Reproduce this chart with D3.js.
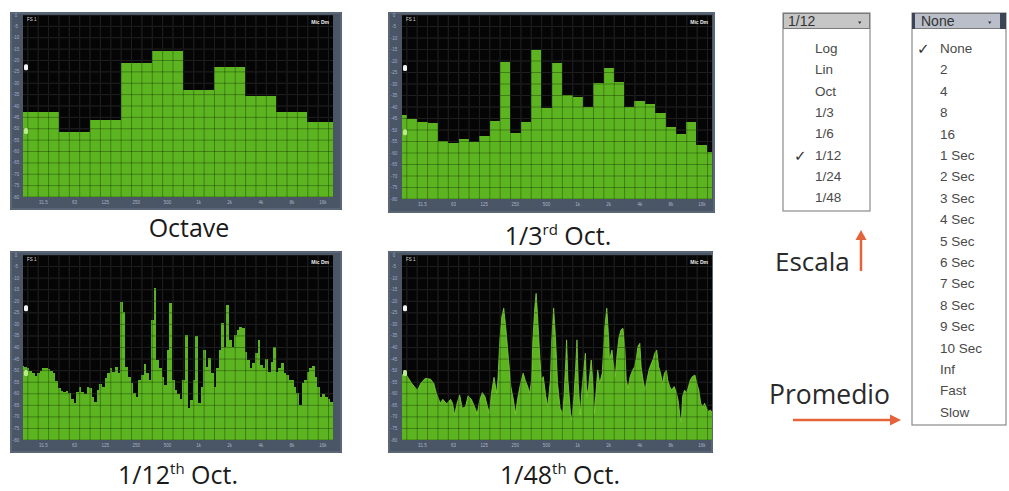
<!DOCTYPE html>
<html><head><meta charset="utf-8">
<script src="https://cdn.jsdelivr.net/npm/d3@7"></script>
<style>body{margin:0;background:#fff;overflow:hidden}svg{display:block}</style>
</head><body>
<script>
// ---------- data ----------
const xTickLabels = ["31.5","63","125","250","500","1k","2k","4k","8k","16k"];
const xTickFreqs = [31.5,63,125,250,500,1000,2000,4000,8000,16000];
const yTickValues = [0,-5,-10,-15,-20,-25,-30,-35,-40,-45,-50,-55,-60,-65,-70,-75,-80];
const markerLevels = [-23,-51];

const octaveCenters = [31.5,63,125,250,500,1000,2000,4000,8000,16000];
const octaveLevels = [-42.6,-51.4,-46.2,-21.1,-15.8,-33.0,-22.9,-35.6,-42.6,-47.0];

const thirdCenters = [20,25,31.5,40,50,63,80,100,125,160,200,250,315,400,500,630,800,1000,1250,1600,2000,2500,3150,4000,5000,6300,8000,10000,12500,16000,20000];
const thirdLevels = [-43.5,-45.4,-46.4,-46.8,-54.6,-55.5,-54.1,-55.1,-52.6,-46.0,-20.3,-51.4,-46.4,-15.2,-40.6,-21.0,-34.8,-35.5,-39.9,-29.7,-22.9,-29.0,-40.1,-37.2,-38.7,-42.7,-48.5,-51.7,-46.7,-56.5,-59.4];

const twelfthLevels = [
-48.0,-48.3,-49.0,-50.0,-51.1,-52.3,-51.1,-50.0,-49.0,-48.7,
-49.1,-50.0,-51.1,-54.7,-57.6,-58.6,-59.1,-58.6,-59.8,-62.4,
-63.8,-59.1,-56.9,-59.1,-60.1,-56.9,-57.6,-61.2,-63.4,-58.4,
-55.8,-56.9,-53.3,-51.1,-49.0,-50.4,-48.3,-51.1,-20.2,-24.5,
-48.3,-52.6,-55.5,-59.8,-61.2,-54.0,-51.9,-47.1,-51.1,-54.0,
-28.1,-14.4,-45.4,-49.0,-52.6,-56.2,-41.1,-20.9,-54.0,-58.4,
-60.1,-62.4,-54.0,-34.6,-66.3,-62.7,-54.0,-35.0,-64.1,-56.9,
-41.1,-48.3,-44.7,-51.1,-56.9,-49.0,-41.1,-29.2,-39.6,-21.6,
-36.7,-39.6,-34.6,-32.4,-31.3,-31.7,-41.8,-45.4,-49.0,-46.8,
-42.5,-36.7,-47.5,-49.0,-45.1,-50.4,-46.1,-39.6,-50.4,-49.0,
-46.5,-51.1,-51.9,-54.0,-54.0,-56.9,-59.8,-64.8,-55.5,-54.0,
-50.4,-49.0,-48.0,-52.6,-56.9,-61.2,-60.1,-61.2,-62.4,-63.4];

const bands48 = [
0,5,10,15,21,24,29,36,44,49,
53,59,63,69,75,78,81,85,89,93,
98,102,107,112,116,120,124,128,132,135,
138,142,146,148,151,154,157,160,164,168,
172,175,179,183,187,190,194,197,200,202,
205,207,209,212,215,218,222,225,229,231,
234,237,240,244,248,250,253,254,256,260,
262,265,268,270,272,275,278,281,283,285,
288,292,295,297,300,302,305,309,311,313,
316,319,320,324,326,329,332,335,338,341,
344,346,349,352,356,359,362,364,367,369,
372,375,378,381,384,388,390,393,396,399,
402,405,408,410,413,416,420,423,426,429,
431,433,436,439,442,445,448,452,455,458,
461,464,467,470,473,476,479];
const levels48 = [
-51.9,-51.1,-53.3,-55.5,-57.6,-58.4,-55.5,-53.3,-53.7,-55.5,
-59.8,-64.1,-62.4,-64.4,-62.4,-64.1,-69.2,-64.1,-60.5,-66.3,
-65.6,-60.9,-62.4,-65.6,-68.7,-62.7,-59.5,-61.2,-65.6,-68.4,
-59.8,-52.9,-59.8,-54.0,-36.7,-26.7,-23.0,-31.0,-43.9,-56.9,
-62.7,-68.7,-61.2,-55.5,-51.1,-54.0,-56.9,-59.8,-54.0,-36.7,
-22.3,-16.6,-25.2,-41.1,-54.0,-52.6,-61.2,-65.6,-54.0,-36.7,
-23.0,-36.7,-55.5,-66.3,-68.7,-61.2,-43.9,-36.7,-54.0,-68.4,
-71.3,-62.7,-48.3,-36.7,-55.5,-69.2,-56.9,-48.3,-42.5,-61.2,
-56.9,-45.4,-56.9,-68.4,-56.9,-49.7,-55.5,-51.1,-41.1,-31.0,
-23.0,-36.7,-45.4,-41.1,-46.8,-52.6,-42.5,-35.3,-32.4,-31.7,
-41.1,-54.0,-57.6,-52.6,-49.7,-48.3,-43.9,-39.6,-38.2,-48.3,
-54.0,-58.4,-54.0,-49.7,-47.5,-44.7,-42.5,-41.1,-48.3,-51.1,
-55.5,-51.1,-49.7,-54.0,-56.9,-58.4,-56.9,-59.1,-62.7,-69.9,
-72.0,-61.2,-58.4,-59.8,-56.9,-54.0,-52.6,-51.9,-55.5,-58.4,
-64.1,-65.6,-64.1,-66.3,-67.7,-67.0,-68.4];

const panelTitles = [["Octave",""],["1/3","rd"," Oct."],["1/12","th"," Oct."],["1/48","th"," Oct."]];
const scaleItems = ["Log","Lin","Oct","1/3","1/6","1/12","1/24","1/48"];
const scaleSelected = "1/12";
const avgItems = ["None","2","4","8","16","1 Sec","2 Sec","3 Sec","4 Sec","5 Sec","6 Sec","7 Sec","8 Sec","9 Sec","10 Sec","Inf","Fast","Slow"];
const avgSelected = "None";
const annotations = ["Escala","Promedio"];

// ---------- layout ----------
const W = 1009, H = 491;
const svg = d3.select("body").append("svg").attr("width", W).attr("height", H);
const GREEN = "#5cb520";
const layout = [
  {fx:10, fy:12, fw:332, fh:198, px:23, py:15, pw:310, ph:182, tx:189, ty:237},
  {fx:388, fy:12, fw:327, fh:201, px:402, py:15, pw:310, ph:184, tx:558, ty:245},
  {fx:10, fy:251, fw:332, fh:202, px:23, py:255, pw:310, ph:185, tx:178, ty:484},
  {fx:388, fy:251, fw:325, fh:202, px:402, py:255, pw:310, ph:185, tx:560, ty:484}
];

function edgesFor(centers, dom) {
  return centers.map((c, i) => {
    const lo = i === 0 ? dom[0] : Math.sqrt(centers[i-1] * c);
    const hi = i === centers.length - 1 ? dom[1] : Math.sqrt(centers[i+1] * c);
    return [lo, hi];
  });
}

function panel(idx, kind, centers, levels) {
  const L = layout[idx];
  const g = svg.append("g");
  const dom = [20, 20000];
  const x = d3.scaleLog().domain(dom).range([L.px, L.px + L.pw]);
  const y = d3.scaleLinear().domain([-80, 0]).range([L.py + L.ph, L.py]);
  g.append("rect").attr("x", L.fx).attr("y", L.fy).attr("width", L.fw).attr("height", L.fh).attr("fill", "#4a5566");
  g.append("rect").attr("x", L.fx + 1).attr("y", L.fy + 1).attr("width", L.fw - 2).attr("height", L.fh - 2).attr("fill", "none").attr("stroke", "#6b7686").attr("stroke-width", 1);
  g.append("rect").attr("x", L.px).attr("y", L.py).attr("width", L.pw).attr("height", L.ph).attr("fill", "#050505");
  const clipId = "clip" + idx;
  g.append("clipPath").attr("id", clipId).append("rect").attr("x", L.px).attr("y", L.py).attr("width", L.pw).attr("height", L.ph);
  const inner = g.append("g").attr("clip-path", `url(#${clipId})`);
  const vLines = d3.range(-3, 30).map(j => 44.55 * Math.pow(2, j / 3)).filter(f => f > dom[0] && f < dom[1]);
  function grid(sel, color) {
    sel.selectAll(null).data(vLines).join("line")
      .attr("x1", d => x(d)).attr("x2", d => x(d)).attr("y1", L.py).attr("y2", L.py + L.ph)
      .attr("stroke", color).attr("stroke-width", 1);
    sel.selectAll(null).data(yTickValues).join("line")
      .attr("x1", L.px).attr("x2", L.px + L.pw).attr("y1", d => y(d)).attr("y2", d => y(d))
      .attr("stroke", color).attr("stroke-width", 1);
  }
  grid(inner.append("g"), "#2c2c2c");
  if (kind === "bars") {
    const ed = edgesFor(centers, dom);
    inner.append("g").selectAll("rect").data(levels).join("rect")
      .attr("x", (d, i) => x(ed[i][0])).attr("width", (d, i) => Math.max(0.6, x(ed[i][1]) - x(ed[i][0])))
      .attr("y", d => y(d)).attr("height", d => L.py + L.ph - y(d))
      .attr("fill", GREEN).attr("shape-rendering", "crispEdges");
  } else {
    const pts = centers.map((c, i) => [c, levels[i]]);
    const area = d3.area().x(d => x(d[0])).y0(L.py + L.ph).y1(d => y(d[1]));
    inner.append("path").datum(pts).attr("d", area).attr("fill", GREEN);
    inner.append("path").datum(pts).attr("d", d3.line().x(d => x(d[0])).y(d => y(d[1])))
      .attr("fill", "none").attr("stroke", "#7fd23a").attr("stroke-width", 0.8);
  }
  grid(inner.append("g"), "rgba(0,0,0,0.30)");
  g.append("g").selectAll("text").data(yTickValues).join("text")
    .attr("x", L.fx + 6).attr("y", d => y(d) + 1.5).attr("text-anchor", "middle")
    .attr("font-family", "Liberation Sans, Arial").attr("font-size", 4.5).attr("fill", "#9fb0c6")
    .text(d => d);
  g.append("g").selectAll("text").data(xTickFreqs).join("text")
    .attr("x", d => x(d)).attr("y", L.py + L.ph + 7).attr("text-anchor", "middle")
    .attr("font-family", "Liberation Sans, Arial").attr("font-size", 4.5).attr("fill", "#a8b4c4")
    .text((d, i) => xTickLabels[i]);
  g.append("rect").attr("x", L.px + 1).attr("y", y(markerLevels[0]) - 3).attr("width", 4).attr("height", 6).attr("rx", 1.5).attr("fill", "#f4f4f4");
  g.append("rect").attr("x", L.px + 1).attr("y", y(markerLevels[1]) - 3).attr("width", 4).attr("height", 6).attr("rx", 1.5).attr("fill", "#b8ec8a");
  g.append("text").attr("x", L.px + 4).attr("y", L.py + 6).attr("font-family", "Liberation Sans, Arial").attr("font-size", 4.5).attr("fill", "#ddd").text("FS 1");
  g.append("text").attr("x", L.px + L.pw - 4).attr("y", L.py + 9).attr("text-anchor", "end").attr("font-family", "Liberation Sans, Arial").attr("font-size", 5).attr("font-weight", "bold").attr("fill", "#eee").text("Mic Dm");
  const t = svg.append("text").attr("x", L.tx).attr("y", L.ty).attr("text-anchor", "middle")
    .attr("font-family", "Open Sans, Lato, sans-serif").attr("font-size", 25).attr("fill", "#1a1a1a");
  const tt = panelTitles[idx];
  t.append("tspan").text(tt[0]);
  if (tt[1]) {
    t.append("tspan").attr("font-size", 15).attr("dy", -10).text(tt[1]);
    t.append("tspan").attr("dy", 10).text(tt[2]);
  }
}

const twelfthCenters = twelfthLevels.map((d, k) => 20 * Math.pow(2, k / 12));
const centers48 = bands48.map(k => 20 * Math.pow(2, k / 48));
panel(0, "bars", octaveCenters, octaveLevels);
panel(1, "bars", thirdCenters, thirdLevels);
panel(2, "bars", twelfthCenters, twelfthLevels);
panel(3, "area", centers48, levels48);

// ---------- dropdown menus ----------
const menuFont = "Liberation Sans, Arial, sans-serif";
function menu(x0, y0, w, hdrH, firstY, rowH, items, selected, hdrText, bottom, dark) {
  const g = svg.append("g");
  g.append("rect").attr("x", x0).attr("y", y0).attr("width", w).attr("height", bottom - y0)
    .attr("fill", "#fff").attr("stroke", "#8a8a8a").attr("stroke-width", 1.2);
  g.append("rect").attr("x", x0 + 0.5).attr("y", y0 + 0.5).attr("width", w - 1).attr("height", hdrH)
    .attr("fill", dark ? "#b9bec8" : "#c6c6c6").attr("stroke", "#7a7a7a").attr("stroke-width", 1);
  if (dark) {
    g.append("rect").attr("x", x0).attr("y", y0).attr("width", 3).attr("height", hdrH + 1).attr("fill", "#3b4556");
    g.append("rect").attr("x", x0 + w - 6).attr("y", y0).attr("width", 6).attr("height", hdrH + 1).attr("fill", "#3b4556");
  }
  g.append("text").attr("x", x0 + (dark ? 9 : 5)).attr("y", y0 + hdrH / 2 + 5)
    .attr("font-family", menuFont).attr("font-size", 14).attr("fill", "#333").text(hdrText);
  g.append("path").attr("d", `M${x0 + w - (dark ? 18 : 12)},${y0 + hdrH / 2 + 1} l3.5,0 l-1.75,2.5z`).attr("fill", "#333");
  const ys = d3.scalePoint().domain(items).range([firstY, firstY + rowH * (items.length - 1)]);
  g.append("g").selectAll("text").data(items).join("text")
    .attr("x", x0 + (dark ? 28 : 32)).attr("y", d => ys(d) + 5)
    .attr("font-family", menuFont).attr("font-size", 13.5).attr("fill", "#4a4a4a").text(d => d);
  g.append("text").attr("x", x0 + (dark ? 5 : 11)).attr("y", ys(selected) + 6)
    .attr("font-family", "DejaVu Sans, sans-serif").attr("font-size", 15).attr("fill", "#333").text("✓");
}
menu(783, 13, 87, 15, 48, 21.3, scaleItems, scaleSelected, scaleSelected, 211, false);
menu(912, 13, 94, 15, 48, 21.4, avgItems, avgSelected, avgSelected, 425, true);

// ---------- annotations ----------
const ORANGE = "#e5633a";
svg.append("text").attr("x", 775).attr("y", 271).attr("font-family", "Open Sans, Lato, sans-serif")
  .attr("font-size", 26).attr("fill", "#2a2a2a").text(annotations[0]);
svg.append("line").attr("x1", 861).attr("x2", 861).attr("y1", 271).attr("y2", 238).attr("stroke", ORANGE).attr("stroke-width", 2.5);
svg.append("path").attr("d", "M855.5,240 L861,230 L866.5,240 Z").attr("fill", ORANGE);
svg.append("text").attr("x", 769).attr("y", 404).attr("font-family", "Open Sans, Lato, sans-serif")
  .attr("font-size", 26.5).attr("fill", "#2a2a2a").text(annotations[1]);
svg.append("line").attr("x1", 793).attr("x2", 892).attr("y1", 420).attr("y2", 420).attr("stroke", ORANGE).attr("stroke-width", 2.5);
svg.append("path").attr("d", "M890,414.5 L901,420 L890,425.5 Z").attr("fill", ORANGE);
</script>
</body></html>
